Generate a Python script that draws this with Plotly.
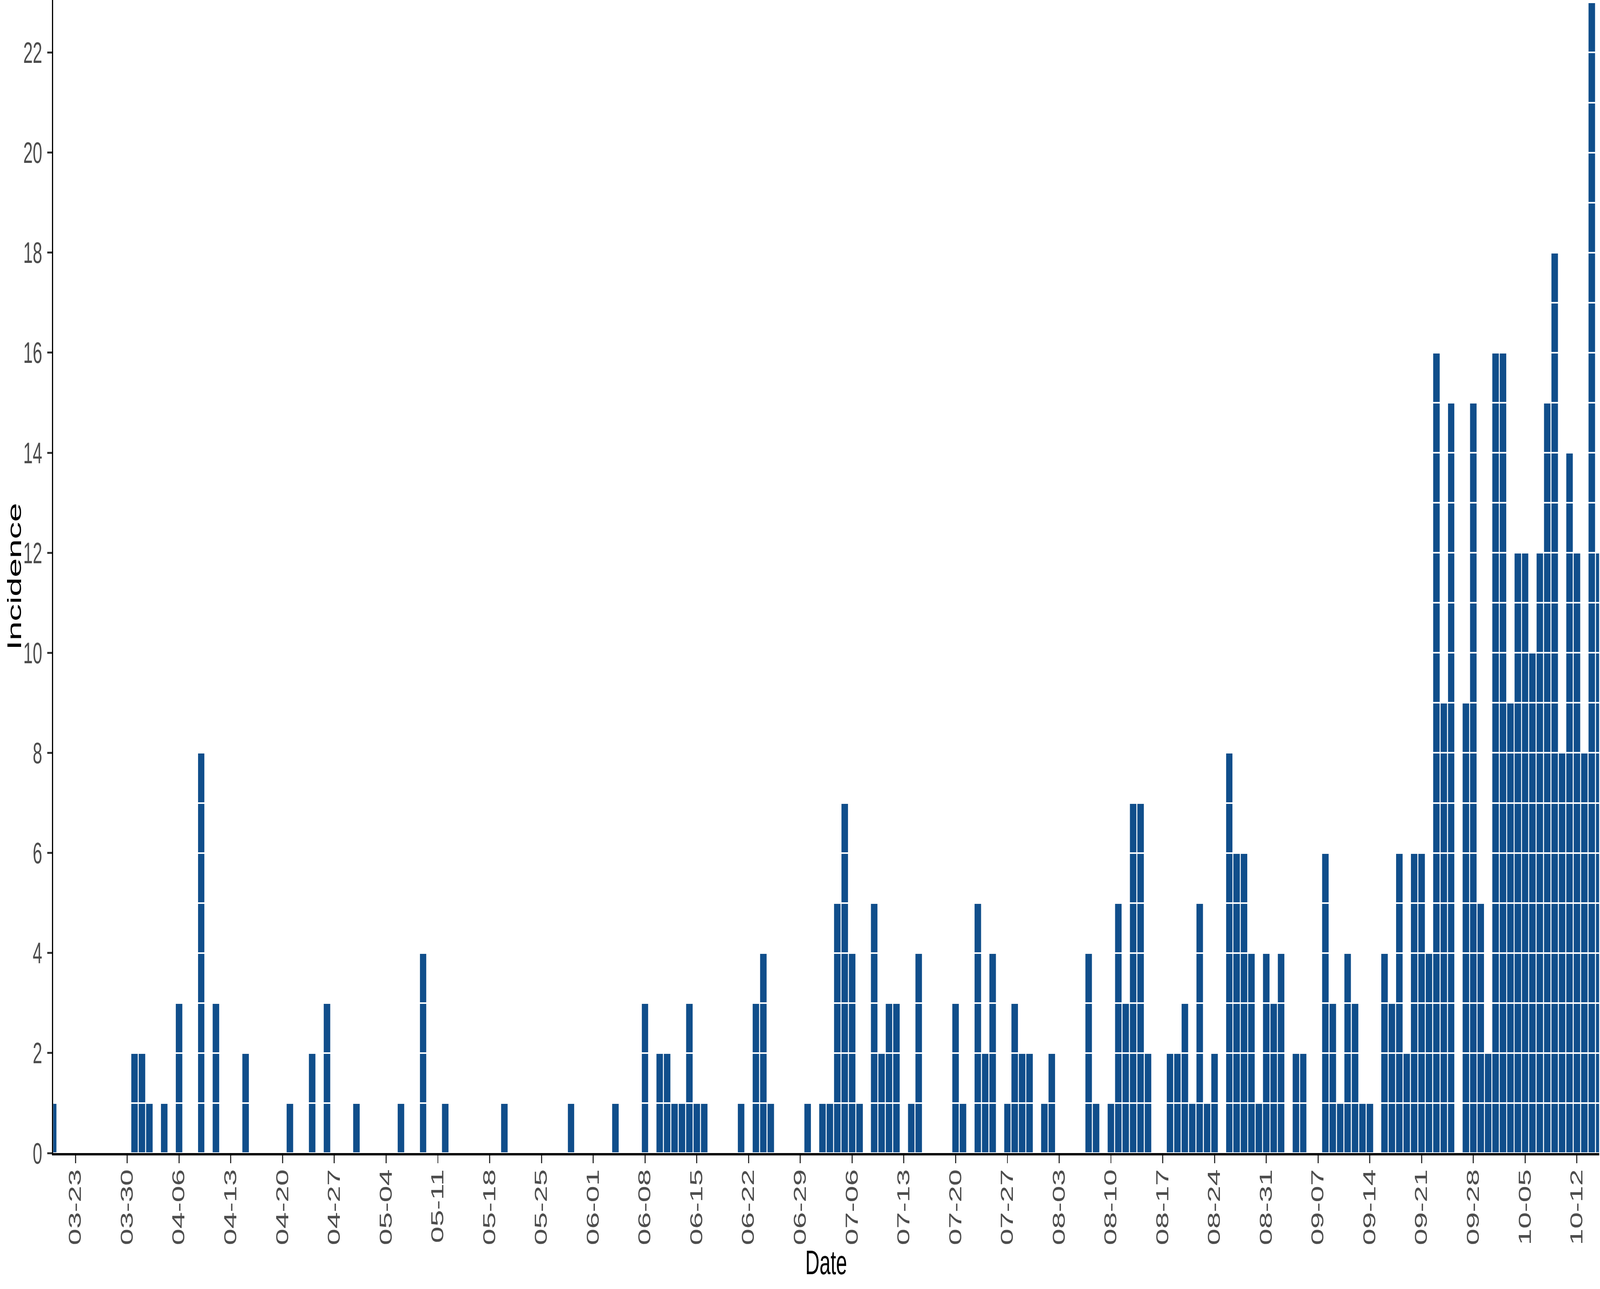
import plotly.graph_objects as go

# daily incidence (year 2020, x axis shows mm-dd)
dates = [
    "2020-03-20", "2020-03-31", "2020-04-01", "2020-04-02", "2020-04-04", "2020-04-06",
    "2020-04-09", "2020-04-11", "2020-04-15", "2020-04-21", "2020-04-24", "2020-04-26",
    "2020-04-30", "2020-05-06", "2020-05-09", "2020-05-12", "2020-05-20", "2020-05-29",
    "2020-06-04", "2020-06-08", "2020-06-10", "2020-06-11", "2020-06-12", "2020-06-13",
    "2020-06-14", "2020-06-15", "2020-06-16", "2020-06-21", "2020-06-23", "2020-06-24",
    "2020-06-25", "2020-06-30", "2020-07-02", "2020-07-03", "2020-07-04", "2020-07-05",
    "2020-07-06", "2020-07-07", "2020-07-09", "2020-07-10", "2020-07-11", "2020-07-12",
    "2020-07-14", "2020-07-15", "2020-07-20", "2020-07-21", "2020-07-23", "2020-07-24",
    "2020-07-25", "2020-07-27", "2020-07-28", "2020-07-29", "2020-07-30", "2020-08-01",
    "2020-08-02", "2020-08-07", "2020-08-08", "2020-08-10", "2020-08-11", "2020-08-12",
    "2020-08-13", "2020-08-14", "2020-08-15", "2020-08-18", "2020-08-19", "2020-08-20",
    "2020-08-21", "2020-08-22", "2020-08-23", "2020-08-24", "2020-08-26", "2020-08-27",
    "2020-08-28", "2020-08-29", "2020-08-30", "2020-08-31", "2020-09-01", "2020-09-02",
    "2020-09-04", "2020-09-05", "2020-09-08", "2020-09-09", "2020-09-10", "2020-09-11",
    "2020-09-12", "2020-09-13", "2020-09-14", "2020-09-16", "2020-09-17", "2020-09-18",
    "2020-09-19", "2020-09-20", "2020-09-21", "2020-09-22", "2020-09-23", "2020-09-24",
    "2020-09-25", "2020-09-27", "2020-09-28", "2020-09-29", "2020-09-30", "2020-10-01",
    "2020-10-02", "2020-10-03", "2020-10-04", "2020-10-05", "2020-10-06", "2020-10-07",
    "2020-10-08", "2020-10-09", "2020-10-10", "2020-10-11", "2020-10-12", "2020-10-13",
    "2020-10-14", "2020-10-15",
]
counts = [
    1, 2, 2, 1, 1, 3,
    8, 3, 2, 1, 2, 3,
    1, 1, 4, 1, 1, 1,
    1, 3, 2, 2, 1, 1,
    3, 1, 1, 1, 3, 4,
    1, 1, 1, 1, 5, 7,
    4, 1, 5, 2, 3, 3,
    1, 4, 3, 1, 5, 2,
    4, 1, 3, 2, 2, 1,
    2, 4, 1, 1, 5, 3,
    7, 7, 2, 2, 2, 3,
    1, 5, 1, 2, 8, 6,
    6, 4, 1, 4, 3, 4,
    2, 2, 6, 3, 1, 4,
    3, 1, 1, 4, 3, 6,
    2, 6, 6, 4, 16, 9,
    15, 9, 15, 5, 2, 16,
    16, 9, 12, 12, 10, 12,
    15, 18, 8, 14, 12, 8,
    23, 12,
]

# one block per case, so the white outlines split each bar into units
block_x = []
block_base = []
for d, n in zip(dates, counts):
    for k in range(n):
        block_x.append(d)
        block_base.append(k)

DAY_MS = 86400000
FIG_W = 7117

fig = go.Figure()
fig.add_trace(go.Bar(
    x=block_x,
    y=[1] * len(block_x),
    base=block_base,
    width=DAY_MS,
    marker=dict(color="#104E8B", line=dict(color="white", width=4)),
    showlegend=False,
))

fig.update_layout(
    width=FIG_W,
    height=3300,
    margin=dict(l=237, r=4, t=0, b=348),
    barmode="overlay",
    bargap=0,
    plot_bgcolor="white",
    paper_bgcolor="white",
    font=dict(family="Liberation Sans", color="black"),
)

axis_style = dict(
    tickfont=dict(size=76, color="#4D4D4D"),
    ticks="outside",
    ticklen=20,
    tickwidth=5,
    tickcolor="#333333",
    showline=True,
    linecolor="black",
    linewidth=6,
    showgrid=False,
    zeroline=False,
    automargin=False,
)

fig.update_xaxes(
    type="date",
    range=["2020-03-20", "2020-10-15"],
    tickmode="linear",
    tick0="2020-03-23",
    dtick=7 * DAY_MS,
    tickformat="%m-%d",
    tickangle=-90,
    ticklabelstandoff=-15,
    **axis_style,
)

fig.update_yaxes(
    range=[0, 23.05],
    tickmode="linear",
    tick0=0,
    dtick=2,
    ticklabelstandoff=8,
    **axis_style,
)

# axis titles as annotations so they sit where the reference has them
fig.add_annotation(
    text="Date", xref="paper", yref="paper", x=0.5, y=0,
    xanchor="center", yanchor="top", yshift=-228,
    showarrow=False, font=dict(size=88, color="black"),
)
fig.add_annotation(
    text="Incidence", xref="paper", yref="paper", x=0, y=0.5,
    xanchor="center", yanchor="middle", xshift=-174, textangle=-90,
    showarrow=False, font=dict(size=88, color="black"),
)

# the browser window can be narrower than the figure; squeeze it to fit the width
fit_js = (
    "var gd = document.getElementById('{plot_id}');"
    "document.body.style.margin = '0';"
    "document.documentElement.style.overflow = 'hidden';"
    "document.body.style.overflow = 'hidden';"
    "var s = window.innerWidth / " + str(FIG_W) + ";"
    "if (s < 1) { gd.style.transformOrigin = '0 0'; gd.style.transform = 'scaleX(' + s + ')'; }"
)

fig.write_html("out.html", post_script=fit_js, config={"displayModeBar": False})
